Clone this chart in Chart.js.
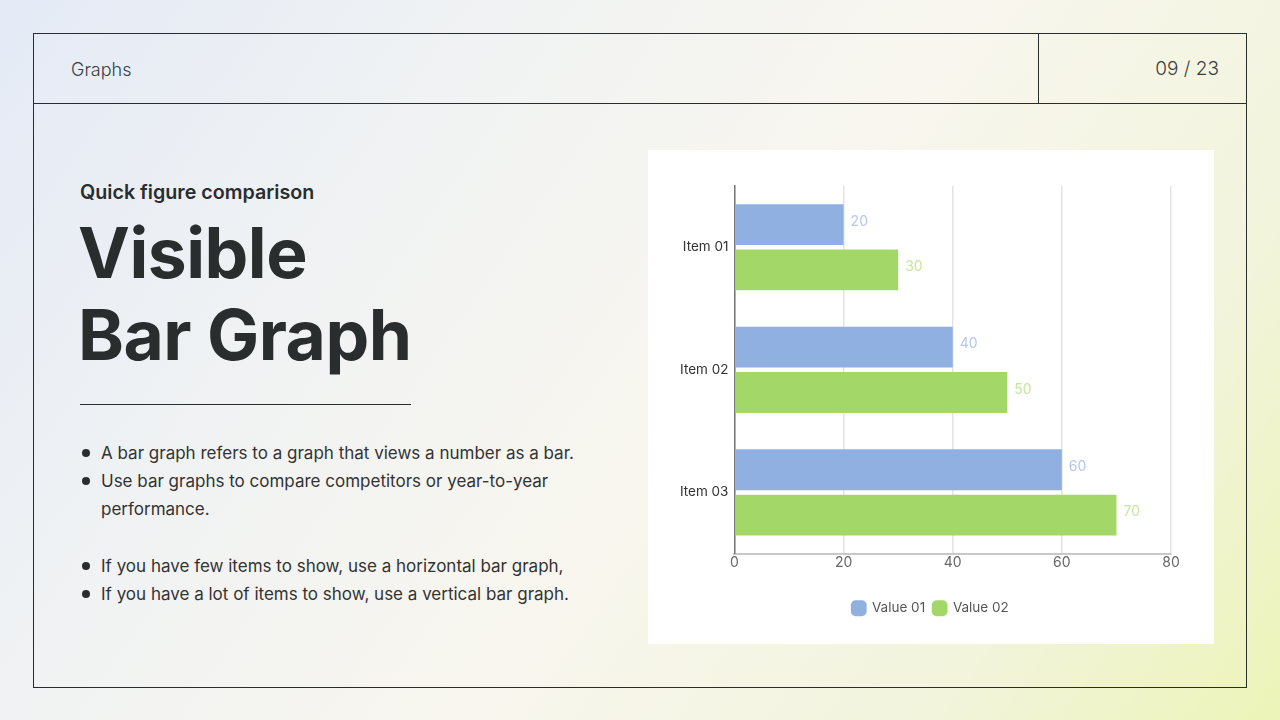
<!DOCTYPE html>
<html>
<head>
<meta charset="utf-8">
<script src="https://cdn.jsdelivr.net/npm/chart.js@4"></script>
<style>
  html, body { margin: 0; padding: 0; }
  body {
    width: 1280px; height: 720px; position: relative; overflow: hidden;
    font-family: Inter, "Noto Sans", sans-serif; color: #2a2d2e;
    background: linear-gradient(125deg, #e4eaf6 0%, #f1f3f3 30%, #f8f6ee 55%, #f2f4dc 80%, #ecf4b8 100%);
  }
  .frame { position: absolute; left: 33px; top: 33px; width: 1212px; height: 653px; border: 1px solid #2a2d2e; }
  .head { position: absolute; left: 33px; top: 103px; width: 1213px; border-top: 1px solid #2a2d2e; }
  .vdiv { position: absolute; left: 1038px; top: 33px; height: 70px; border-left: 1px solid #2a2d2e; }
  .crumb { position: absolute; left: 71px; top: 59px; font-size: 18px; font-weight: 300; color: #3a3d3e; }
  .page { position: absolute; right: 61px; top: 57px; font-size: 19px; font-weight: 300; color: #3a3d3e; }
  .sub { position: absolute; left: 80px; top: 180px; font-size: 19.7px; font-weight: 600; }
  .title { position: absolute; left: 78px; top: 212px; font-size: 69.5px; font-weight: 700; line-height: 82px; letter-spacing: -0.5px; }
  .rule { position: absolute; left: 80px; top: 404px; width: 331px; border-top: 1px solid #2a2d2e; }
  ul { position: absolute; left: 80px; top: 439px; margin: 0; padding: 0; list-style: none; font-size: 17px; line-height: 28px; color: #333; width: 520px; }
  li { position: relative; padding-left: 21px; }
  li::before { content: ""; position: absolute; left: 2px; top: 10px; width: 8px; height: 8px; border-radius: 50%; background: #2a2d2e; }
  li.gap { margin-top: 29px; }
  .panel { position: absolute; left: 648px; top: 150px; width: 566px; height: 494px; background: #fff; }
</style>
</head>
<body>
<div class="frame"></div>
<div class="head"></div>
<div class="vdiv"></div>
<div class="crumb">Graphs</div>
<div class="page">09 / 23</div>
<div class="sub">Quick figure comparison</div>
<div class="title">Visible<br>Bar Graph</div>
<div class="rule"></div>
<ul>
  <li>A bar graph refers to a graph that views a number as a bar.</li>
  <li>Use bar graphs to compare competitors or year-to-year performance.</li>
  <li class="gap">If you have few items to show, use a horizontal bar graph,</li>
  <li>If you have a lot of items to show, use a vertical bar graph.</li>
</ul>
<div class="panel"><canvas id="barChart" width="566" height="494"></canvas></div>
<script>
// chart data
const items = ['Item 01', 'Item 02', 'Item 03'];
const value01 = [20, 40, 60];
const value02 = [30, 50, 70];
const xTicks = [0, 20, 40, 60, 80];

// draws the number just past the end of each bar
const valueLabels = {
  id: 'valueLabels',
  afterDatasetsDraw(chart) {
    const ctx = chart.ctx;
    ctx.save();
    ctx.font = '14px Inter';
    ctx.textBaseline = 'middle';
    chart.data.datasets.forEach((ds, i) => {
      const meta = chart.getDatasetMeta(i);
      ctx.fillStyle = ds.labelColor;
      meta.data.forEach((bar, j) => {
        ctx.fillText(ds.data[j], bar.x + 7, bar.y - 3);
      });
    });
    ctx.restore();
  }
};

// legend sits centred on the white panel, not on the padded box
const centreLegend = {
  id: 'centreLegend',
  afterLayout(chart) {
    chart.legend.left += 8;
    chart.legend.right += 8;
  }
};

const chart = new Chart(document.getElementById('barChart').getContext('2d'), {
  type: 'bar',
  data: {
    labels: items,
    datasets: [{
      label: 'Value 01',
      data: value01,
      backgroundColor: '#91b0e2',
      labelColor: '#b7c6ea'
    }, {
      label: 'Value 02',
      data: value02,
      backgroundColor: '#a3d768',
      labelColor: '#c6e69c'
    }]
  },
  options: {
    indexAxis: 'y',
    responsive: false,
    animation: false,
    categoryPercentage: 0.74,
    barPercentage: 0.9,
    layout: { padding: { left: 26, right: 43, top: 36, bottom: 19 } },
    scales: {
      x: {
        min: 0, max: 80,
        afterBuildTicks: axis => { axis.ticks = xTicks.map(v => ({ value: v })); },
        afterFit: axis => { axis.height += 21; },
        grid: { color: '#e3e3e3', lineWidth: 1.5, drawTicks: false },
        border: { color: '#c8c8c8', width: 2 },
        ticks: { color: '#666', font: { family: 'Inter', size: 14 }, padding: 1 }
      },
      y: {
        grid: { display: false, drawTicks: false },
        border: { color: '#777', width: 1.5 },
        ticks: { color: '#333', font: { family: 'Inter', size: 13.5 }, padding: 6 }
      }
    },
    plugins: {
      legend: {
        position: 'bottom',
        labels: {
          usePointStyle: true, pointStyle: 'rectRounded', boxWidth: 13, boxHeight: 13,
          color: '#555', font: { family: 'Inter', size: 13.5 }, padding: 8
        }
      },
      tooltip: { enabled: false }
    }
  },
  plugins: [valueLabels, centreLegend]
});
</script>
</body>
</html>
